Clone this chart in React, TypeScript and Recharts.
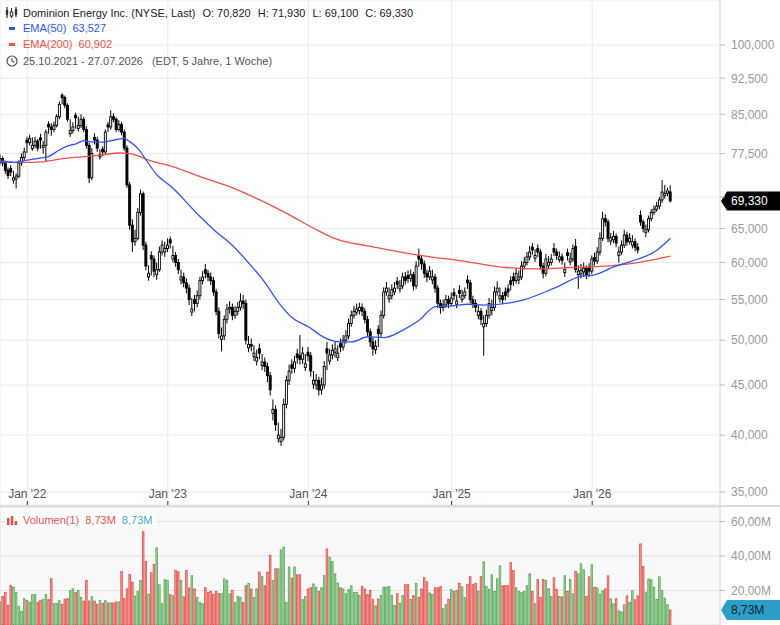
import React from 'react';
import { ComposedChart, Bar, Line, XAxis, YAxis, CartesianGrid, ReferenceLine } from 'recharts';

const closes = [
  76.6, 75.8, 74.5, 73.6, 74.2, 73.2, 73.5, 75.8, 76.8, 77.8,
  79.5, 80.3, 79.0, 79.8, 78.5, 80.0, 79.0, 81.5, 82.5, 82.0,
  82.8, 84.5, 87.0, 88.4, 86.8, 84.0, 81.8, 82.5, 84.3, 82.8,
  84.0, 82.0, 79.0, 73.2, 77.5, 80.0, 78.5, 77.3, 77.8, 81.5,
  82.5, 84.5, 84.0, 82.0, 83.0, 81.5, 78.5, 72.0, 65.5, 63.0,
  63.5, 67.5, 70.5, 62.5, 59.5, 58.5, 60.5, 58.8, 59.0, 61.5,
  62.5, 62.0, 62.5, 62.8, 61.0, 60.0, 59.0, 58.0, 57.2, 56.5,
  55.0, 53.8, 54.5, 55.5, 57.5, 58.0, 58.5, 58.0, 57.5, 56.0,
  53.5, 50.8, 50.5, 52.5, 53.8, 54.0, 53.0, 53.5, 54.0, 54.8,
  54.5, 50.0, 49.5, 49.3, 48.5, 48.0, 48.5, 47.5, 47.0, 46.0,
  44.5, 42.5, 41.0, 40.0, 39.8, 43.0, 45.5, 46.5, 46.8, 47.5,
  48.0, 47.8, 48.5, 47.3, 48.2, 46.5, 45.5, 45.5, 44.5, 45.0,
  47.0, 48.5, 48.3, 48.8, 49.0, 48.5, 49.2, 50.0, 50.5, 52.0,
  53.0, 53.5, 53.8, 54.0, 53.5, 52.5, 51.0, 49.8, 49.0, 49.3,
  50.8, 53.0, 56.0, 56.5, 55.5, 56.3, 56.5, 57.0, 56.8, 58.0,
  57.5, 57.8, 58.3, 56.8, 59.5, 60.5, 59.8, 58.5, 58.0, 58.8,
  58.0, 56.5, 54.5, 54.0, 54.3, 55.0, 54.5, 55.2, 55.5, 54.8,
  55.8, 55.5, 56.0, 57.2, 55.0, 54.5, 54.0, 53.5, 52.5, 52.0,
  53.0, 54.5, 54.0, 56.0, 56.5, 55.5, 55.0, 55.5, 56.0, 57.0,
  57.5, 58.5, 58.0, 59.5, 60.0, 60.8, 61.5, 61.8, 61.0, 61.5,
  59.5, 58.5, 60.5, 60.0, 60.5, 61.5, 61.0, 60.8, 60.3, 59.0,
  61.0, 60.5, 62.0, 59.0, 58.8, 58.9, 59.2, 58.3, 58.8, 60.5,
  60.2, 61.5, 63.5, 66.5, 66.0, 63.5, 63.6, 63.8, 62.8, 61.5,
  62.5, 64.0, 63.0, 63.5, 63.0, 62.2, 61.8, 66.0, 65.0, 64.8,
  66.5, 67.5, 68.0, 68.5, 69.5, 70.8, 70.6, 71.0, 69.33,
];

const opens = [
  75.9, 76.6, 75.8, 74.5, 74.8, 72.8, 73.0, 73.5, 75.8, 76.8,
  80.0, 79.5, 78.4, 79.0, 79.8, 80.4, 78.6, 79.0, 83.0, 82.5,
  82.0, 82.8, 84.5, 88.9, 88.4, 86.8, 81.2, 81.8, 84.8, 82.2,
  82.8, 84.0, 82.0, 79.0, 73.2, 80.5, 80.0, 76.9, 78.3, 77.8,
  82.9, 82.5, 84.5, 84.0, 82.0, 83.0, 81.5, 78.5, 72.0, 65.5,
  63.0, 63.5, 67.5, 70.5, 62.5, 58.0, 61.0, 60.5, 58.3, 59.0,
  61.5, 61.5, 62.0, 63.3, 60.5, 61.0, 60.0, 57.6, 58.0, 57.2,
  56.5, 53.4, 55.0, 54.5, 55.5, 57.5, 59.0, 58.5, 58.0, 57.5,
  56.0, 53.5, 50.1, 50.5, 52.5, 53.8, 54.0, 53.0, 53.5, 54.0,
  54.8, 54.5, 49.1, 49.5, 48.1, 47.6, 49.0, 47.1, 47.5, 47.0,
  46.0, 42.1, 42.5, 39.7, 39.4, 39.8, 43.0, 45.5, 47.2, 46.8,
  48.4, 48.2, 47.8, 46.9, 48.6, 48.2, 45.1, 45.0, 45.5, 44.5,
  45.0, 49.0, 47.6, 48.3, 48.6, 48.0, 49.6, 49.2, 50.0, 50.5,
  52.0, 53.0, 53.4, 53.6, 54.0, 53.5, 52.5, 51.0, 49.8, 48.9,
  51.3, 50.8, 53.0, 56.0, 55.1, 55.5, 56.0, 57.4, 56.4, 56.8,
  58.0, 58.2, 57.8, 58.3, 56.8, 61.0, 60.5, 59.8, 58.5, 58.0,
  57.6, 58.0, 56.5, 54.5, 54.0, 54.3, 55.0, 54.5, 55.9, 54.4,
  56.2, 55.0, 55.5, 57.6, 57.2, 55.0, 54.5, 53.0, 53.5, 51.6,
  52.0, 53.0, 53.6, 54.0, 56.0, 55.1, 55.5, 56.0, 56.4, 57.5,
  58.0, 57.5, 57.6, 58.0, 59.5, 60.0, 60.8, 62.2, 60.6, 62.0,
  61.5, 59.5, 58.5, 59.6, 60.0, 62.0, 61.5, 60.4, 60.8, 58.6,
  61.4, 60.1, 60.5, 62.3, 58.3, 58.4, 58.7, 59.2, 59.3, 58.8,
  60.7, 60.2, 61.5, 63.5, 66.5, 66.0, 63.1, 63.3, 63.8, 61.0,
  61.5, 62.5, 64.0, 63.0, 62.5, 63.0, 62.2, 67.0, 66.0, 64.4,
  64.8, 66.5, 67.5, 68.0, 68.5, 69.5, 70.2, 70.6, 70.82,
];

const highs = [
  77.4, 77.0, 76.2, 75.0, 75.4, 74.4, 74.0, 76.3, 77.5, 78.6,
  80.6, 81.0, 80.5, 80.6, 80.2, 81.2, 79.8, 82.0, 83.6, 83.2,
  83.5, 85.0, 87.6, 89.3, 88.8, 87.2, 84.0, 83.4, 85.3, 84.5,
  85.0, 84.5, 82.6, 79.5, 78.5, 81.3, 80.6, 78.3, 78.8, 82.0,
  83.5, 85.8, 85.2, 84.4, 83.8, 83.5, 82.0, 79.0, 72.5, 66.4,
  64.8, 68.2, 71.2, 70.9, 63.0, 59.6, 61.6, 61.0, 60.0, 62.3,
  63.2, 63.0, 63.5, 63.8, 62.4, 61.5, 60.5, 59.0, 58.6, 57.8,
  57.0, 55.2, 55.6, 56.2, 58.0, 58.8, 59.8, 59.0, 58.6, 58.0,
  56.4, 54.0, 51.5, 53.0, 54.4, 54.8, 54.5, 54.2, 54.7, 55.8,
  55.6, 55.0, 50.5, 50.2, 49.4, 48.9, 49.6, 48.4, 48.0, 47.4,
  46.4, 43.5, 42.9, 41.2, 40.6, 43.6, 46.0, 47.2, 47.8, 48.2,
  49.0, 50.6, 49.2, 48.4, 49.2, 48.6, 46.5, 46.2, 45.9, 45.8,
  47.6, 49.8, 49.0, 49.5, 49.8, 49.4, 50.2, 50.6, 51.2, 52.6,
  53.6, 54.2, 54.5, 54.6, 54.5, 53.9, 52.9, 51.4, 50.3, 50.0,
  51.8, 53.6, 56.6, 57.3, 56.6, 57.0, 57.3, 58.0, 57.6, 58.6,
  58.7, 58.9, 59.0, 58.7, 60.2, 62.0, 61.0, 60.3, 59.0, 59.5,
  59.0, 58.4, 56.9, 55.0, 55.0, 55.6, 55.5, 55.9, 56.5, 55.6,
  56.9, 56.3, 56.6, 58.2, 57.6, 55.5, 55.0, 54.3, 53.9, 53.0,
  53.7, 55.2, 55.0, 56.7, 57.4, 56.6, 56.0, 56.6, 57.0, 58.1,
  58.6, 59.2, 58.9, 60.2, 60.8, 61.5, 62.4, 62.8, 61.9, 62.6,
  61.9, 60.0, 61.2, 60.9, 61.2, 62.8, 62.0, 61.6, 61.3, 60.0,
  62.0, 61.4, 62.6, 63.4, 59.6, 59.8, 60.0, 59.6, 59.9, 61.0,
  61.4, 62.2, 64.4, 67.6, 67.2, 66.4, 64.3, 64.6, 64.2, 62.3,
  63.2, 64.8, 64.5, 64.3, 64.0, 63.5, 62.8, 67.8, 66.4, 65.6,
  67.0, 68.0, 68.6, 69.2, 70.0, 72.8, 72.0, 71.5, 71.93,
];

const lows = [
  75.4, 75.2, 73.9, 73.0, 73.5, 72.2, 71.4, 73.2, 75.3, 76.2,
  77.6, 79.0, 78.0, 78.5, 77.9, 78.4, 77.5, 76.0, 81.2, 80.8,
  81.5, 82.4, 84.0, 87.0, 86.2, 83.5, 80.6, 81.2, 82.2, 81.6,
  82.3, 81.5, 78.4, 72.3, 72.8, 79.2, 77.8, 76.4, 77.0, 77.4,
  81.5, 82.0, 83.4, 81.5, 81.6, 80.9, 78.0, 71.5, 64.8, 61.5,
  62.4, 63.2, 67.0, 61.8, 58.9, 57.5, 58.2, 58.0, 57.6, 58.7,
  61.0, 60.8, 61.5, 62.0, 60.0, 59.4, 58.4, 57.0, 56.6, 55.8,
  54.3, 52.9, 53.5, 54.0, 55.0, 57.0, 57.8, 57.4, 56.9, 55.5,
  53.0, 50.2, 48.7, 50.0, 52.0, 53.2, 52.4, 52.6, 53.0, 53.6,
  53.8, 49.5, 48.6, 48.7, 47.6, 47.1, 47.8, 46.6, 46.4, 45.3,
  43.9, 41.4, 40.4, 39.3, 39.0, 39.5, 42.6, 45.0, 46.2, 46.3,
  47.3, 47.2, 47.3, 46.5, 47.6, 45.9, 44.6, 44.5, 43.9, 44.0,
  44.6, 46.6, 47.2, 47.8, 48.0, 47.6, 48.6, 48.8, 49.6, 50.1,
  51.6, 52.6, 53.0, 53.1, 52.9, 52.0, 50.5, 49.2, 48.2, 48.4,
  49.2, 50.4, 52.6, 55.5, 54.6, 55.0, 55.6, 56.4, 55.9, 56.4,
  57.0, 57.2, 57.3, 56.2, 56.4, 59.4, 59.0, 57.9, 57.3, 57.6,
  57.0, 55.9, 53.9, 53.2, 53.5, 53.9, 53.9, 54.1, 54.9, 53.9,
  55.2, 54.6, 55.1, 56.4, 54.5, 53.9, 53.4, 52.5, 51.8, 48.2,
  51.6, 52.6, 53.0, 53.6, 55.5, 54.6, 54.4, 54.9, 55.3, 56.2,
  56.8, 57.1, 57.0, 57.6, 59.0, 59.6, 60.3, 61.1, 60.1, 60.8,
  59.0, 57.8, 58.1, 59.2, 59.6, 60.9, 60.4, 60.0, 59.7, 58.0,
  60.3, 59.6, 60.1, 58.6, 56.4, 57.8, 58.0, 57.7, 58.0, 58.4,
  59.6, 59.8, 61.0, 63.1, 65.3, 62.9, 62.5, 62.8, 62.2, 60.0,
  61.1, 62.1, 62.4, 62.6, 62.0, 61.6, 61.3, 65.4, 64.4, 63.7,
  64.4, 66.1, 67.1, 67.6, 68.0, 69.0, 69.7, 70.1, 69.10,
];

const volumes = [
  13.4, 16.6, 18.8, 11.4, 22.8, 22.0, 18.8, 10.9, 7.8, 15.3,
  14.3, 13.2, 17.6, 17.6, 13.2, 14.3, 14.9, 17.6, 14.7, 26.8,
  12.4, 12.4, 14.1, 12.0, 14.9, 15.3, 19.9, 21.0, 18.9, 20.1,
  15.9, 13.9, 25.9, 13.9, 16.4, 13.9, 12.0, 14.3, 12.6, 14.1,
  12.8, 12.8, 12.8, 13.4, 13.4, 31.0, 15.3, 21.0, 29.3, 24.9,
  16.8, 19.5, 25.9, 54.1, 36.8, 18.0, 30.3, 35.1, 44.7, 23.4,
  12.4, 26.3, 25.9, 17.6, 17.0, 31.6, 30.9, 25.9, 16.3, 31.6,
  21.4, 28.6, 20.9, 15.9, 13.0, 12.4, 21.6, 18.8, 19.5, 17.8,
  19.5, 18.2, 18.2, 26.8, 25.9, 18.2, 20.1, 13.0, 16.6, 15.9,
  13.0, 22.8, 24.1, 20.9, 15.9, 21.0, 30.7, 28.2, 22.8, 30.7,
  40.4, 25.9, 32.6, 32.6, 43.6, 45.1, 13.0, 33.6, 27.2, 33.6,
  29.1, 29.1, 14.7, 16.6, 20.9, 21.6, 23.8, 22.0, 19.5, 21.6,
  28.6, 44.1, 39.3, 36.8, 29.7, 24.3, 21.6, 20.9, 18.2, 20.5,
  22.8, 18.8, 18.8, 17.2, 22.4, 20.9, 17.6, 20.1, 14.7, 11.1,
  15.1, 17.2, 22.0, 22.0, 22.4, 17.2, 11.4, 18.2, 12.6, 17.0,
  23.4, 23.4, 14.9, 17.0, 24.0, 16.0, 20.9, 27.4, 25.1, 18.6,
  17.8, 21.6, 21.6, 22.2, 9.7, 11.8, 14.9, 20.5, 19.5, 20.1,
  24.0, 22.2, 15.9, 23.5, 28.0, 23.4, 24.0, 19.5, 28.2, 36.6,
  22.4, 20.7, 29.1, 19.5, 26.8, 34.3, 22.8, 22.8, 22.8, 36.1,
  31.6, 21.6, 19.5, 18.9, 19.5, 22.8, 29.7, 19.5, 12.4, 26.3,
  15.9, 26.4, 25.9, 21.0, 16.6, 27.4, 20.7, 16.6, 16.3, 28.6,
  19.5, 26.4, 18.2, 31.0, 29.7, 35.5, 32.0, 16.6, 27.9, 34.9,
  21.9, 21.5, 18.0, 19.8, 21.0, 28.5, 15.2, 12.3, 15.2, 8.2,
  7.6, 11.7, 16.9, 13.0, 19.8, 14.6, 16.9, 47.0, 33.9, 19.0,
  26.7, 26.2, 21.9, 14.8, 27.9, 20.0, 15.6, 11.7, 8.73,
];

const ema50Idx = [0, 5, 10, 15, 18, 22, 25, 28, 31, 34, 38, 43, 46, 47, 51, 54, 58, 63, 74, 79, 86, 92, 98, 103, 108, 114, 120, 126, 130, 136, 142, 149, 155, 161, 167, 173, 179, 189, 194, 205, 215, 220, 227, 236, 242, 248];
const ema50Val = [76.2, 75.9, 76.3, 76.7, 77.0, 78.2, 78.9, 79.3, 79.9, 79.6, 79.6, 80.1, 80.3, 80.0, 78.4, 76.3, 73.7, 71.8, 66.8, 64.8, 62.4, 59.9, 57.2, 54.6, 52.7, 51.6, 50.3, 49.8, 49.8, 50.4, 50.3, 51.2, 52.4, 54.1, 54.2, 54.4, 54.3, 54.6, 55.0, 56.5, 58.1, 58.3, 59.4, 60.5, 61.5, 63.527];

const ema200Idx = [0, 7, 15, 22, 30, 37, 44, 48, 52, 55, 62, 74, 86, 96, 107, 117, 125, 136, 154, 173, 187, 199, 211, 224, 236, 248];
const ema200Val = [76.0, 75.9, 76.0, 76.5, 76.9, 77.2, 77.6, 77.5, 76.9, 76.3, 75.4, 73.4, 71.5, 69.5, 67.1, 64.8, 63.3, 62.4, 61.1, 60.1, 59.3, 59.1, 59.3, 59.5, 60.0, 60.902];

const janIdx = [10, 62, 114, 167, 219];
const janLabels = ["Jan '22", "Jan '23", "Jan '24", "Jan '25", "Jan '26"];
const priceTicks = [35, 40, 45, 50, 55, 60, 65, 70, 77.5, 85, 92.5, 100];
const volTicks = [20, 40, 60];

const e50Map = new Map(ema50Idx.map((k, j) => [k, ema50Val[j]]));
const e200Map = new Map(ema200Idx.map((k, j) => [k, ema200Val[j]]));

const rows = closes.map((c, i) => ({
  i,
  o: opens[i],
  h: highs[i],
  l: lows[i],
  c,
  range: [lows[i], highs[i]],
  v: volumes[i],
  e50: e50Map.has(i) ? e50Map.get(i) : null,
  e200: e200Map.has(i) ? e200Map.get(i) : null,
}));

const last = rows.length - 1;
const fmtPrice = (v: number) => v.toFixed(3).replace('.', ',');
const fmtVol = (v: number) => v.toFixed(2).replace('.', ',') + 'M';

const BLUE = '#2f55f5';
const RED = '#ee5046';
const X_DOMAIN: [number, number] = [-0.1, 266.3];

const Candle = (p: any) => {
  const { x, y, width, height, payload } = p;
  if (x == null || y == null) return null;
  const top = Math.min(y, y + height);
  const bot = Math.max(y, y + height);
  const { o, h, l, c } = payload;
  const lh = Math.log(h);
  const ll = Math.log(l);
  const toY = (v: number) => top + ((bot - top) * (lh - Math.log(v))) / (lh - ll || 1);
  const cx = x + width / 2;
  const up = c >= o;
  const yT = toY(Math.max(o, c));
  const yB = toY(Math.min(o, c));
  return (
    <g>
      <line x1={cx} x2={cx} y1={top} y2={bot} stroke="#000" strokeWidth={1} />
      <rect x={cx - 1} y={yT} width={2} height={Math.max(yB - yT, 0.6)} fill={up ? '#fff' : '#000'} stroke="#000" strokeWidth={0.9} />
    </g>
  );
};

const VolBar = (p: any) => {
  const { x, y, width, height, payload } = p;
  if (x == null || y == null) return null;
  const up = payload.c >= payload.o;
  const cx = x + width / 2;
  const top = Math.min(y, y + height);
  const hh = Math.abs(height);
  return (
    <rect x={cx - 0.8} y={top} width={1.6} height={hh} fill={up ? '#a4d79d' : '#f59b96'} stroke={up ? '#58a75a' : '#e2504b'} strokeWidth={0.8} />
  );
};

const JanTick = (p: any) => {
  const { x, y, payload } = p;
  const k = janIdx.indexOf(payload.value);
  return (
    <g>
      <line x1={x} x2={x} y1={y - 4} y2={y} stroke="#333" strokeWidth={1} />
      <text x={x} y={y - 7} textAnchor="middle" fill="#555" fontSize={12}>{janLabels[k]}</text>
    </g>
  );
};

// price axis tick: the label is left out where the last-price badge covers it
const PriceTick = (p: any) => {
  const { x, y, payload } = p;
  const covered = Math.abs(Math.log(payload.value / closes[last])) < 0.03;
  if (covered) return null;
  return (
    <text x={x} y={y} dy="0.36em" textAnchor="start" fill="#9a9a9a" fontSize={12}>{fmtPrice(payload.value)}</text>
  );
};

const Badge = (p: any) => {
  const { viewBox, text, bg, fg, half } = p;
  if (!viewBox) return null;
  const x = viewBox.x + viewBox.width;
  const y = viewBox.y;
  return (
    <g>
      <path d={`M${x + 1},${y} L${x + 7},${y - half} H${x + 60} V${y + half} H${x + 7} Z`} fill={bg} />
      <text x={x + 11} y={y} dy="0.36em" fill={fg} fontSize={12}>{text}</text>
    </g>
  );
};

const axisTick = { fill: '#9a9a9a', fontSize: 12 };

export default function App() {
  return (
    <div style={{ position: 'relative', width: 780, height: 625, overflow: 'hidden', background: '#fff', fontFamily: '"Liberation Sans", Arial, sans-serif' }}>
      <style>{'body{margin:0}'}</style>

      <div style={{ position: 'absolute', left: 0, top: 0 }}>
        <ComposedChart width={780} height={506} data={rows} margin={{ top: 0, right: 0, bottom: 0, left: 0 }}>
          <CartesianGrid stroke="#ececec" />
          <XAxis
            dataKey="i"
            type="number"
            domain={X_DOMAIN}
            allowDataOverflow
            ticks={janIdx}
            interval={0}
            height={1}
            axisLine={false}
            tickLine={false}
            tickSize={0}
            tickMargin={0}
            tick={<JanTick />}
          />
          <YAxis
            orientation="right"
            scale="log"
            domain={[33.95, 111.15]}
            allowDataOverflow
            ticks={priceTicks}
            interval={0}
            width={60}
            tick={<PriceTick />}
            tickSize={5}
            tickMargin={6}
            tickLine={{ stroke: '#bbb' }}
            axisLine={{ stroke: '#dedede' }}
          />
          <Line dataKey="e200" stroke={RED} strokeWidth={1.3} dot={false} activeDot={false} connectNulls type="monotone" isAnimationActive={false} />
          <Line dataKey="e50" stroke={BLUE} strokeWidth={1.3} dot={false} activeDot={false} connectNulls type="monotone" isAnimationActive={false} />
          <Bar dataKey="range" barSize={2} shape={<Candle />} isAnimationActive={false} />
          <ReferenceLine
            y={closes[last]}
            stroke="none"
            label={{ content: (lp: any) => <Badge viewBox={lp.viewBox} text={fmtPrice(closes[last])} bg="#000" fg="#fff" half={9.5} /> }}
          />
        </ComposedChart>
      </div>

      <div style={{ position: 'absolute', left: 0, top: 505, width: 780, height: 2, background: '#dcdcdc' }} />

      <div style={{ position: 'absolute', left: 0, top: 507 }}>
        <ComposedChart width={780} height={118} data={rows} margin={{ top: 0, right: 0, bottom: 0, left: 0 }}>
          <CartesianGrid stroke="#e2e2e2" fill="#f9f9f9" fillOpacity={1} />
          <XAxis dataKey="i" type="number" domain={X_DOMAIN} allowDataOverflow ticks={janIdx} interval={0} height={0} tick={false} tickLine={false} axisLine={false} />
          <YAxis
            orientation="right"
            domain={[0, 68.4]}
            allowDataOverflow
            ticks={volTicks}
            interval={0}
            width={60}
            tickFormatter={fmtVol}
            tick={axisTick}
            tickSize={5}
            tickMargin={6}
            tickLine={{ stroke: '#bbb' }}
            axisLine={{ stroke: '#dedede' }}
          />
          <Bar dataKey="v" barSize={2} shape={<VolBar />} isAnimationActive={false} />
          <ReferenceLine
            y={volumes[last]}
            stroke="none"
            label={{ content: (lp: any) => <Badge viewBox={lp.viewBox} text={fmtVol(volumes[last])} bg="#2b9dc6" fg="#0d2533" half={10} /> }}
          />
        </ComposedChart>
      </div>

      {/* price legend */}
      <div style={{ position: 'absolute', left: 0, top: 0, fontSize: 11, lineHeight: '16px', pointerEvents: 'none' }}>
        <svg width={13} height={12} style={{ position: 'absolute', left: 5, top: 7 }}>
          <line x1={2} x2={2} y1={0} y2={11} stroke="#333" strokeWidth={1.2} />
          <rect x={0.8} y={3} width={2.4} height={5} fill="#333" />
          <line x1={6.5} x2={6.5} y1={1} y2={11} stroke="#333" strokeWidth={1.2} />
          <rect x={5.3} y={5} width={2.4} height={4} fill="#fff" stroke="#333" strokeWidth={1} />
          <line x1={11} x2={11} y1={0} y2={10} stroke="#333" strokeWidth={1.2} />
          <rect x={9.8} y={2} width={2.4} height={6} fill="#333" />
        </svg>
        <div style={{ position: 'absolute', left: 23, top: 5, whiteSpace: 'nowrap', color: '#222' }}>
          <span>Dominion Energy Inc. (NYSE, Last)</span>
          <span style={{ marginLeft: 7 }}>O: {fmtPrice(opens[last])}</span>
          <span style={{ marginLeft: 7 }}>H: {fmtPrice(highs[last])}</span>
          <span style={{ marginLeft: 7 }}>L: {fmtPrice(lows[last])}</span>
          <span style={{ marginLeft: 7 }}>C: {fmtPrice(closes[last])}</span>
        </div>
        <div style={{ position: 'absolute', left: 9, top: 27, width: 6, height: 3, background: BLUE }} />
        <div style={{ position: 'absolute', left: 23, top: 20, whiteSpace: 'nowrap', color: BLUE }}>
          <span>EMA(50)</span>
          <span style={{ marginLeft: 6 }}>{fmtPrice(ema50Val[ema50Val.length - 1])}</span>
        </div>
        <div style={{ position: 'absolute', left: 9, top: 43, width: 6, height: 3, background: RED }} />
        <div style={{ position: 'absolute', left: 23, top: 36, whiteSpace: 'nowrap', color: RED }}>
          <span>EMA(200)</span>
          <span style={{ marginLeft: 6 }}>{fmtPrice(ema200Val[ema200Val.length - 1])}</span>
        </div>
        <svg width={12} height={12} style={{ position: 'absolute', left: 6, top: 55 }}>
          <circle cx={6} cy={6} r={5} fill="none" stroke="#555" strokeWidth={1.2} />
          <path d="M6,3 V6 L8.2,7.6" fill="none" stroke="#555" strokeWidth={1.2} />
        </svg>
        <div style={{ position: 'absolute', left: 23, top: 53, whiteSpace: 'nowrap', color: '#555' }}>
          <span>25.10.2021 - 27.07.2026</span>
          <span style={{ marginLeft: 9 }}>(EDT, 5 Jahre, 1 Woche)</span>
        </div>
      </div>

      {/* volume legend */}
      <div style={{ position: 'absolute', left: 5, top: 513, width: 152, height: 15, background: 'rgba(255,255,255,0.92)', fontSize: 11, lineHeight: '15px', pointerEvents: 'none' }}>
        <svg width={11} height={9} style={{ position: 'absolute', left: 2, top: 3 }}>
          <rect x={0} y={2} width={2.5} height={7} fill="#e2504b" />
          <rect x={3.8} y={0} width={2.5} height={9} fill="#e2504b" />
          <rect x={7.6} y={5} width={2.5} height={4} fill="#e2504b" />
        </svg>
        <div style={{ position: 'absolute', left: 18, top: 0, whiteSpace: 'nowrap' }}>
          <span style={{ color: '#e5534e' }}>Volumen(1)</span>
          <span style={{ marginLeft: 6, color: '#e5534e' }}>{fmtVol(volumes[last])}</span>
          <span style={{ marginLeft: 6, color: '#3fa9d4' }}>{fmtVol(volumes[last])}</span>
        </div>
      </div>
    </div>
  );
}
